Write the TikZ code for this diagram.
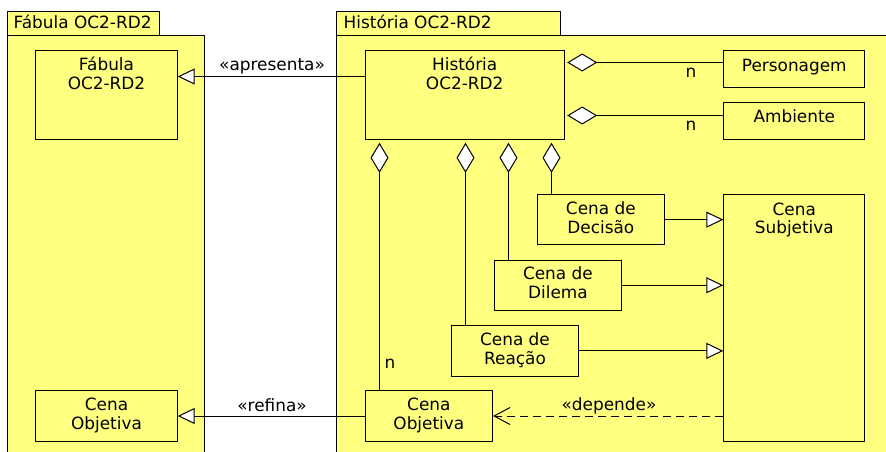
\documentclass[tikz,border=0pt]{standalone}
\usepackage{fontspec}
\setmainfont{DejaVu Sans}
\usetikzlibrary{arrows.meta}
\definecolor{umlyellow}{RGB}{255,255,128}
\newcommand\twoline[2]{\begin{tabular}[t]{@{}c@{}}#1\\#2\end{tabular}}
\begin{document}
\begin{tikzpicture}[x=1pt,y=-1pt,
  pkg/.style={draw=black, line width=1pt, fill=umlyellow, inner sep=0pt, anchor=north west},
  box/.style={draw=black, line width=1pt, fill=umlyellow, inner sep=0pt, anchor=north west},
  txt/.style={inner sep=0pt, font=\fontsize{16.9}{18.8}\selectfont, text=black},
  gen/.style={line width=1pt, -{Triangle[length=17pt,width=16pt,fill=white]}},
  agg/.style={line width=1pt, {Diamond[length=30pt,width=18pt,fill=white]}-, shorten <=2.5pt},
  dep/.style={line width=1pt, dash pattern=on 8pt off 5pt, -{Straight Barb[length=16pt,width=17pt]}}
]
\clip (0,0) rectangle (886,451);
\fill[white] (0,0) rectangle (886,451);

% packages
\node[pkg, minimum width=152.3pt, minimum height=24.3pt] (tabL) at (6.7,10.7) {};
\node[pkg, minimum width=197.6pt, minimum height=440pt] (bodyL) at (6.7,35) {};
\node[txt, anchor=base west] (tabLt) at (13.5,28.3) {Fábula OC2-RD2};
\node[pkg, minimum width=224pt, minimum height=24.3pt] (tabR) at (336,10.7) {};
\node[pkg, minimum width=560pt, minimum height=440pt] (bodyR) at (336,35) {};
\node[txt, anchor=base west] (tabRt) at (343.5,28.3) {História OC2-RD2};

% boxes
\node[box, minimum width=141.4pt, minimum height=89.3pt] (fab) at (35.3,50) {};
\node[box, minimum width=141.4pt, minimum height=51pt] (cobjL) at (35.3,390) {};
\node[box, minimum width=199pt, minimum height=89.3pt] (hist) at (364.7,50) {};
\node[box, minimum width=141pt, minimum height=36.7pt] (pers) at (723.3,50) {};
\node[box, minimum width=141pt, minimum height=36.7pt] (amb) at (723.3,102.3) {};
\node[box, minimum width=127.3pt, minimum height=50.3pt] (dec) at (536.7,194) {};
\node[box, minimum width=126.8pt, minimum height=50.5pt] (dil) at (494,259.5) {};
\node[box, minimum width=127pt, minimum height=50.7pt] (rea) at (451,325) {};
\node[box, minimum width=127.3pt, minimum height=51pt] (cobjR) at (364.7,390) {};
\node[box, minimum width=141pt, minimum height=247pt] (subj) at (723.3,194) {};

% box texts
\node[txt, anchor=base] (fabt) at ([yshift=-20.7pt]fab.north) {\twoline{Fábula}{OC2-RD2}};
\node[txt, anchor=base] (cobjLt) at ([yshift=-20.7pt]cobjL.north) {\twoline{Cena}{Objetiva}};
\node[txt, anchor=base] (histt) at ([yshift=-20.7pt]hist.north) {\twoline{História}{OC2-RD2}};
\node[txt, anchor=base] (perst) at ([yshift=-21pt]pers.north) {Personagem};
\node[txt, anchor=base] (ambt) at ([yshift=-20.5pt]amb.north) {Ambiente};
\node[txt, anchor=base] (dect) at ([yshift=-20.7pt]dec.north) {\twoline{Cena de}{Decisão}};
\node[txt, anchor=base] (dilt) at ([yshift=-20.3pt]dil.north) {\twoline{Cena de}{Dilema}};
\node[txt, anchor=base] (reat) at ([yshift=-20.3pt]rea.north) {\twoline{Cena de}{Reação}};
\node[txt, anchor=base] (cobjRt) at ([yshift=-20.7pt]cobjR.north) {\twoline{Cena}{Objetiva}};
\node[txt, anchor=base] (subjt) at ([yshift=-21pt]subj.north) {\twoline{Cena}{Subjetiva}};

% helper coordinates
\coordinate (ya) at (0,76.5);
\coordinate (yp) at (0,62.5);
\coordinate (ym) at (0,115.5);
\coordinate (x1) at (379.5,0);
\coordinate (x2) at (465.5,0);
\coordinate (x3) at (508.5,0);
\coordinate (x4) at (551.5,0);

% generalisation / dependency edges
\draw[gen] (hist.west |- ya) -- (fab.east |- ya);
\draw[gen] (cobjR.west) -- (cobjL.east);
\draw[gen] (dec.east) -- (subj.west |- dec.east);
\draw[gen] (dil.east) -- (subj.west |- dil.east);
\draw[gen] (rea.east) -- (subj.west |- rea.east);
\draw[dep] (subj.west |- cobjR.east) -- (cobjR.east);

% aggregations
\draw[agg] (hist.east |- yp) -- (pers.west |- yp);
\draw[agg] (hist.east |- ym) -- (amb.west |- ym);
\draw[agg] (hist.south -| x1) -- (cobjR.north -| x1);
\draw[agg] (hist.south -| x2) -- (rea.north -| x2);
\draw[agg] (hist.south -| x3) -- (dil.north -| x3);
\draw[agg] (hist.south -| x4) -- (dec.north -| x4);

% edge labels
\node[txt, anchor=base] (lapr) at (272,70.7) {«apresenta»};
\node[txt, anchor=base] (lref) at (272,411) {«refina»};
\node[txt, anchor=base] (ldep) at (609,410) {«depende»};
\node[txt] (n1) at (691,73) {n};
\node[txt] (n2) at (691,126) {n};
\node[txt] (n3) at (390,364) {n};
\end{tikzpicture}
\end{document}
